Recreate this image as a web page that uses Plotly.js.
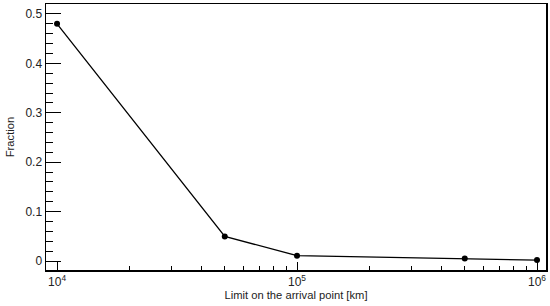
<!DOCTYPE html>
<html><head><meta charset="utf-8">
<script src="https://cdn.plot.ly/plotly-3.0.1.min.js"></script>
<style>html,body{margin:0;padding:0;background:#fff}#chart{width:550px;height:306px}</style>
</head><body><div id="chart"></div>
<script>
const limits = [1e4, 5e4, 1e5, 5e5, 1e6];
const fraction = [0.48, 0.05, 0.011, 0.0055, 0.002];
const xTickVals = [1e4, 1e5, 1e6];
const xTickText = ['10<sup>4</sup>', '10<sup>5</sup>', '10<sup>6</sup>'];
const yTickVals = [0, 0.1, 0.2, 0.3, 0.4, 0.5];
const yTickText = ['0', '0.1', '0.2', '0.3', '0.4', '0.5'];

const xMinor = [];
for (let d = 4; d < 6; d++) for (let m = 2; m <= 9; m++) xMinor.push(m * Math.pow(10, d));

const font = {family: 'Liberation Sans, Arial, sans-serif', size: 12, color: '#222'};
const titleFont = {family: 'Liberation Sans, Arial, sans-serif', size: 11.2, color: '#222'};
Plotly.newPlot('chart', [{
  x: limits, y: fraction, type: 'scatter', mode: 'lines+markers',
  line: {color: '#000', width: 1.3},
  marker: {color: '#000', size: 6},
  showlegend: false
}], {
  width: 550, height: 306,
  margin: {l: 46, r: 4, t: 4, b: 36},
  paper_bgcolor: '#fff', plot_bgcolor: '#fff',
  font: font,
  xaxis: {
    type: 'log', range: [3.954, 6.0375],
    tickmode: 'array', tickvals: xTickVals, ticktext: xTickText,
    ticks: 'inside', ticklen: 8, tickcolor: '#000', tickwidth: 1,
    minor: {tickmode: 'array', tickvals: xMinor, ticks: 'inside', ticklen: 4, tickcolor: '#000', showgrid: false},
    showline: true, linecolor: '#000', linewidth: 1.5, mirror: true,
    showgrid: false, zeroline: false,
    title: {text: 'Limit on the arrival point [km]', font: titleFont, standoff: 0}
  },
  yaxis: {
    range: [-0.018, 0.52],
    tickmode: 'array', tickvals: yTickVals, ticktext: yTickText,
    ticks: 'inside', ticklen: 15, tickcolor: '#000', tickwidth: 1,
    minor: {dtick: 0.02, ticks: 'inside', ticklen: 7, tickcolor: '#000', showgrid: false},
    showline: true, linecolor: '#000', linewidth: 1.5, mirror: true,
    showgrid: false, zeroline: false,
    title: {text: 'Fraction', font: titleFont, standoff: 8}
  }
}, {displayModeBar: false, staticPlot: true});
</script></body></html>
